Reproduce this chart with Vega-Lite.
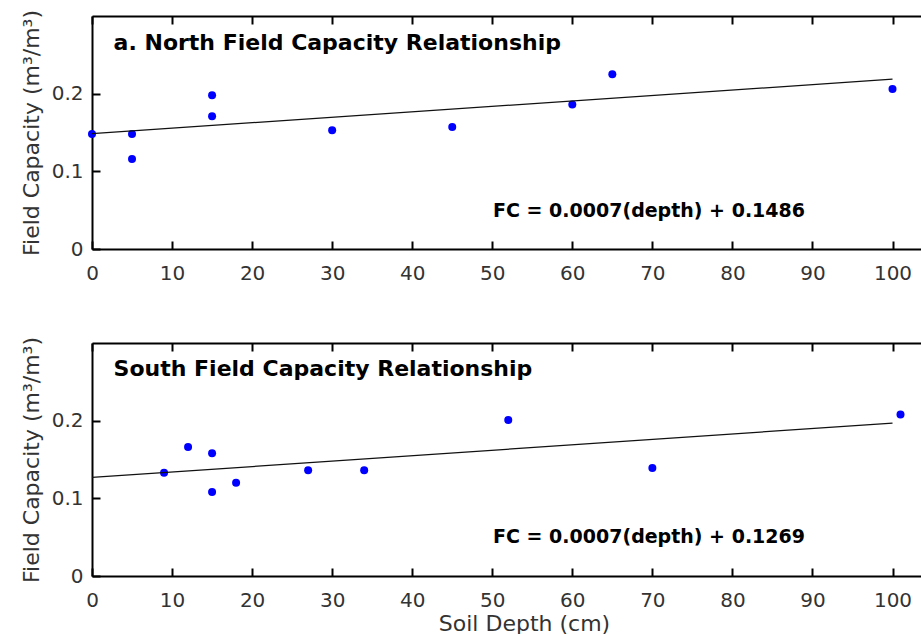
{
  "$schema": "https://vega.github.io/schema/vega-lite/v6.json",
  "background": "white",
  "padding": {"left": 20, "top": 9, "right": 0, "bottom": 0},
  "config": {
    "view": {"stroke": null},
    "font": "DejaVu Sans",
    "axis": {
      "grid": false,
      "domainColor": "#000000",
      "domainWidth": 2,
      "tickColor": "#000000",
      "tickWidth": 2,
      "tickSize": -8,
      "labelFont": "DejaVu Sans",
      "labelFontSize": 20,
      "labelColor": "#333333",
      "labelFlush": false,
      "titleFont": "DejaVu Sans",
      "titleFontSize": 22,
      "titleFontWeight": "normal",
      "titleColor": "#333333"
    }
  },
  "datasets": {
    "north": [
      {"depth": 0, "fc": 0.148},
      {"depth": 5, "fc": 0.148},
      {"depth": 5, "fc": 0.116},
      {"depth": 15, "fc": 0.198},
      {"depth": 15, "fc": 0.171},
      {"depth": 30, "fc": 0.153},
      {"depth": 45, "fc": 0.157},
      {"depth": 60, "fc": 0.186},
      {"depth": 65, "fc": 0.225},
      {"depth": 100, "fc": 0.206}
    ],
    "northFit": [
      {"depth": 0, "fc": 0.1486},
      {"depth": 100, "fc": 0.2186}
    ],
    "south": [
      {"depth": 9, "fc": 0.133},
      {"depth": 12, "fc": 0.166},
      {"depth": 15, "fc": 0.158},
      {"depth": 15, "fc": 0.108},
      {"depth": 18, "fc": 0.120},
      {"depth": 27, "fc": 0.136},
      {"depth": 34, "fc": 0.136},
      {"depth": 52, "fc": 0.201},
      {"depth": 70, "fc": 0.139},
      {"depth": 101, "fc": 0.208}
    ],
    "southFit": [
      {"depth": 0, "fc": 0.1269},
      {"depth": 100, "fc": 0.1969}
    ],
    "northText": [{"title": "a. North Field Capacity Relationship", "eq": "FC = 0.0007(depth) + 0.1486"}],
    "southText": [{"title": "South Field Capacity Relationship", "eq": "FC = 0.0007(depth) + 0.1269"}]
  },
  "spacing": 94,
  "bounds": "flush",
  "vconcat": [
    {
      "width": 829,
      "height": 233,
      "resolve": {"axis": {"x": "independent"}},
      "layer": [
        {
          "data": {"name": "north"},
          "mark": {"type": "point", "shape": "circle", "filled": true, "size": 64, "color": "#0000FF", "opacity": 1},
          "encoding": {
            "x": {"field": "depth", "type": "quantitative", "scale": {"domain": [0, 103.56], "nice": false, "zero": false},
              "axis": {"orient": "bottom", "values": [0, 10, 20, 30, 40, 50, 60, 70, 80, 90, 100], "title": null, "labelPadding": 22}},
            "y": {"field": "fc", "type": "quantitative", "scale": {"domain": [0, 0.3], "nice": false},
              "axis": {"values": [0, 0.1, 0.2], "format": "~g", "title": "Field Capacity (m³/m³)", "labelPadding": 17, "titlePadding": 8}}
          }
        },
        {
          "data": {"name": "northFit"},
          "mark": {"type": "line", "color": "#111111", "strokeWidth": 1.3},
          "encoding": {
            "x": {"field": "depth", "type": "quantitative", "axis": {"orient": "top", "labels": false, "title": null, "values": [0, 10, 20, 30, 40, 50, 60, 70, 80, 90, 100]}},
            "y": {"field": "fc", "type": "quantitative"}
          }
        },
        {
          "data": {"name": "northText"},
          "mark": {"type": "text", "align": "left", "baseline": "alphabetic", "fontSize": 22, "fontWeight": "bold", "color": "#000000", "font": "DejaVu Sans"},
          "encoding": {
            "x": {"datum": 2.7, "type": "quantitative", "axis": null},
            "y": {"datum": 0.256, "type": "quantitative"},
            "text": {"field": "title"}
          }
        },
        {
          "data": {"name": "northText"},
          "mark": {"type": "text", "align": "left", "baseline": "alphabetic", "fontSize": 19, "fontWeight": "bold", "color": "#000000", "font": "DejaVu Sans"},
          "encoding": {
            "x": {"datum": 50.1, "type": "quantitative", "axis": null},
            "y": {"datum": 0.041, "type": "quantitative"},
            "text": {"field": "eq"}
          }
        }
      ]
    },
    {
      "width": 829,
      "height": 233,
      "resolve": {"axis": {"x": "independent"}},
      "layer": [
        {
          "data": {"name": "south"},
          "mark": {"type": "point", "shape": "circle", "filled": true, "size": 64, "color": "#0000FF", "opacity": 1},
          "encoding": {
            "x": {"field": "depth", "type": "quantitative", "scale": {"domain": [0, 103.56], "nice": false, "zero": false},
              "axis": {"orient": "bottom", "values": [0, 10, 20, 30, 40, 50, 60, 70, 80, 90, 100], "title": "Soil Depth (cm)", "labelPadding": 22, "titlePadding": 3, "titleX": 432}},
            "y": {"field": "fc", "type": "quantitative", "scale": {"domain": [0, 0.3], "nice": false},
              "axis": {"values": [0, 0.1, 0.2], "format": "~g", "title": "Field Capacity (m³/m³)", "labelPadding": 17, "titlePadding": 8}}
          }
        },
        {
          "data": {"name": "southFit"},
          "mark": {"type": "line", "color": "#111111", "strokeWidth": 1.3},
          "encoding": {
            "x": {"field": "depth", "type": "quantitative", "axis": {"orient": "top", "labels": false, "title": null, "values": [0, 10, 20, 30, 40, 50, 60, 70, 80, 90, 100]}},
            "y": {"field": "fc", "type": "quantitative"}
          }
        },
        {
          "data": {"name": "southText"},
          "mark": {"type": "text", "align": "left", "baseline": "alphabetic", "fontSize": 22, "fontWeight": "bold", "color": "#000000", "font": "DejaVu Sans"},
          "encoding": {
            "x": {"datum": 2.7, "type": "quantitative", "axis": null},
            "y": {"datum": 0.257, "type": "quantitative"},
            "text": {"field": "title"}
          }
        },
        {
          "data": {"name": "southText"},
          "mark": {"type": "text", "align": "left", "baseline": "alphabetic", "fontSize": 19, "fontWeight": "bold", "color": "#000000", "font": "DejaVu Sans"},
          "encoding": {
            "x": {"datum": 50.1, "type": "quantitative", "axis": null},
            "y": {"datum": 0.042, "type": "quantitative"},
            "text": {"field": "eq"}
          }
        }
      ]
    }
  ]
}
